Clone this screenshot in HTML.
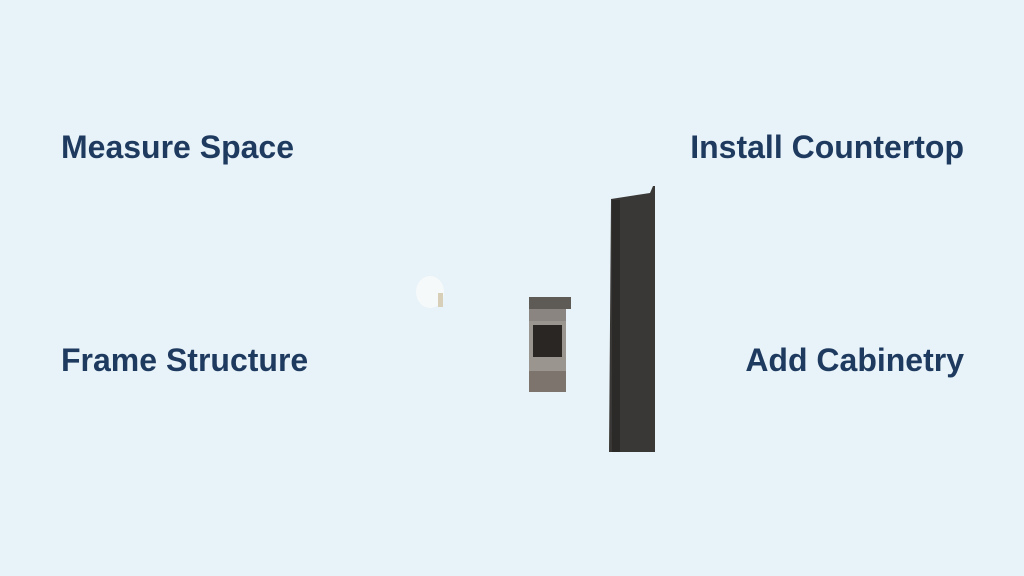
<!DOCTYPE html>
<html><head><meta charset="utf-8"><style>
html,body{margin:0;padding:0;}
body{width:1024px;height:576px;background:#e8f3f9;position:relative;overflow:hidden;font-family:"Liberation Sans",Arial,sans-serif;}
.t{position:absolute;font-weight:bold;font-size:32px;color:#1e3a5f;line-height:1;white-space:nowrap;}
</style></head><body>
<div class="t" style="left:61px;top:131px;">Measure Space</div>
<div class="t" style="right:60px;top:131px;">Install Countertop</div>
<div class="t" style="left:61px;top:344px;">Frame Structure</div>
<div class="t" style="right:60px;top:344px;">Add Cabinetry</div>
<svg width="1024" height="576" style="position:absolute;left:0;top:0">
  <ellipse cx="430" cy="292" rx="14" ry="16" fill="#f7fafa" opacity="0.9"/>
  <rect x="438" y="293" width="5" height="14" fill="#d8cfb8"/>
  <rect x="529" y="297" width="42" height="12" fill="#5e5a56"/>
  <rect x="529" y="309" width="37" height="12" fill="#8a8580"/>
  <rect x="529" y="321" width="37" height="50" fill="#9a958f"/>
  <rect x="533" y="325" width="29" height="32" fill="#2a2624"/>
  <rect x="529" y="371" width="37" height="21" fill="#7d756d"/>
  <polygon points="611,199 650,193 653,186 655,186 655,452 609,452" fill="#3a3836"/>
  <rect x="612" y="200" width="8" height="252" fill="#2c2a29"/>
</svg>
</body></html>
